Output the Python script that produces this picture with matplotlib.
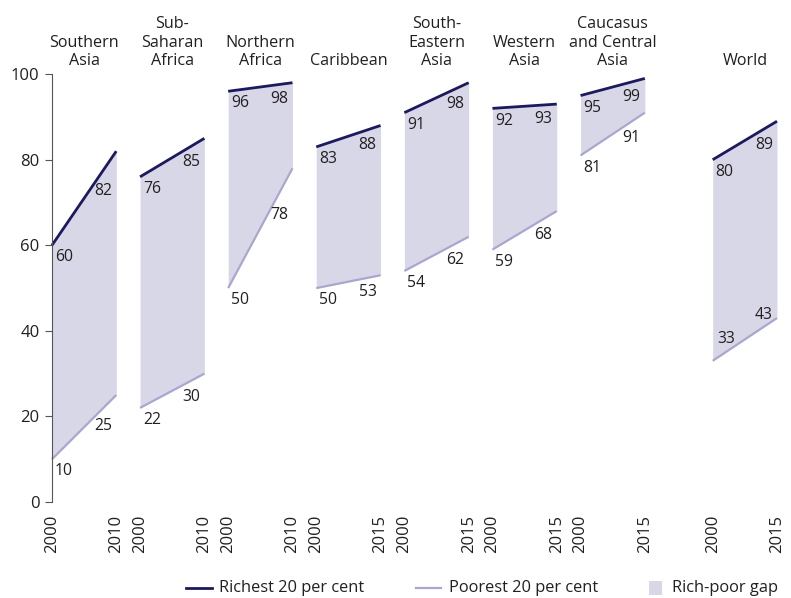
import numpy as np
import matplotlib.pyplot as plt
from matplotlib.lines import Line2D
from matplotlib.patches import Rectangle

plt.rcParams["font.family"] = ["Open Sans", "DejaVu Sans"]

# Share of births attended by skilled personnel, richest vs poorest quintile
regions = ["Southern\nAsia", "Sub-\nSaharan\nAfrica", "Northern\nAfrica", "Caribbean",
           "South-\nEastern\nAsia", "Western\nAsia", "Caucasus\nand Central\nAsia", "World"]
start_year = ["2000", "2000", "2000", "2000", "2000", "2000", "2000", "2000"]
end_year = ["2010", "2010", "2010", "2015", "2015", "2015", "2015", "2015"]
richest_start = [60, 76, 96, 83, 91, 92, 95, 80]
richest_end = [82, 85, 98, 88, 98, 93, 99, 89]
poorest_start = [10, 22, 50, 50, 54, 59, 81, 33]
poorest_end = [25, 30, 78, 53, 62, 68, 91, 43]

rich_col = "#1c1a5f"
poor_col = "#aaa7cf"
gap_col = "#d8d7e8"
text_col = "#231f20"
fs = 11.3

# group layout: World sits a half-step further right
group_x = np.array([0, 1, 2, 3, 4, 5, 6, 7.5])
width = 0.73

fig = plt.figure(figsize=(7.91, 5.98), dpi=100)
ax = fig.add_axes([0.0657, 0.1605, 0.9166, 0.7155])

def end_label(ax, x0, x1, v0, v1, above=False):
    # put the end value under (or over) the line, right aligned to the segment end
    slope = (v1 - v0) / (x1 - x0)
    y_at = v1 - slope * 0.2
    if above:
        ax.annotate(f"{v1}", (x1, y_at), xytext=(-3, 5), textcoords="offset points",
                    ha="right", va="bottom", fontsize=fs, color=text_col)
    else:
        ax.annotate(f"{v1}", (x1, y_at), xytext=(-3, -4), textcoords="offset points",
                    ha="right", va="top", fontsize=fs, color=text_col)

for i, name in enumerate(regions):
    x0 = group_x[i]
    x1 = x0 + width
    xs = [x0, x1]
    rich = [richest_start[i], richest_end[i]]
    poor = [poorest_start[i], poorest_end[i]]
    ax.fill_between(xs, poor, rich, color=gap_col, lw=0, clip_on=False)
    ax.plot(xs, rich, color=rich_col, lw=2.0, solid_capstyle="butt", clip_on=False)
    ax.plot(xs, poor, color=poor_col, lw=1.6, solid_capstyle="butt", clip_on=False)

    world = name == "World"
    ax.annotate(f"{rich[0]}", (x0, rich[0]), xytext=(2, -3), textcoords="offset points",
                ha="left", va="top", fontsize=fs, color=text_col)
    end_label(ax, x0, x1, rich[0], rich[1])
    if world:
        ax.annotate(f"{poor[0]}", (x0, poor[0]), xytext=(3, 10), textcoords="offset points",
                    ha="left", va="bottom", fontsize=fs, color=text_col)
        end_label(ax, x0, x1, poor[0], poor[1], above=True)
    else:
        ax.annotate(f"{poor[0]}", (x0, poor[0]), xytext=(2, -3), textcoords="offset points",
                    ha="left", va="top", fontsize=fs, color=text_col)
        end_label(ax, x0, x1, poor[0], poor[1])

    ax.text(x0 + width / 2, 101.2, name, ha="center", va="bottom", fontsize=11.6,
            color=text_col, linespacing=1.2)

ax.set_xlim(0, group_x[-1] + width)
ax.set_ylim(0, 100)
ax.set_yticks([0, 20, 40, 60, 80, 100])
ax.tick_params(axis="y", length=5, width=0.8, color="#555555", labelsize=12,
               labelcolor=text_col, pad=4)

ticks = np.concatenate([group_x, group_x + width])
labels = start_year + end_year
ax.set_xticks(ticks)
ax.set_xticklabels(labels, rotation=90, fontsize=12, color=text_col)
ax.tick_params(axis="x", length=0, pad=9)

for side in ["top", "right", "bottom"]:
    ax.spines[side].set_visible(False)
ax.spines["left"].set_color("#555555")
ax.spines["left"].set_linewidth(0.8)

# legend row along the bottom, laid out in figure pixels
W, H = 791, 598
ly = 1 - 588 / H
lfs = 11.8
fig.add_artist(Line2D([186 / W, 212 / W], [ly, ly], color=rich_col, lw=2.0,
                      transform=fig.transFigure))
fig.text(219 / W, ly, "Richest 20 per cent", ha="left", va="center", fontsize=lfs,
         color=text_col)
fig.add_artist(Line2D([416 / W, 441 / W], [ly, ly], color=poor_col, lw=1.6,
                      transform=fig.transFigure))
fig.text(449 / W, ly, "Poorest 20 per cent", ha="left", va="center", fontsize=lfs,
         color=text_col)
fig.add_artist(Rectangle((649 / W, ly - 7 / H), 13 / W, 14 / H, facecolor=gap_col,
                         edgecolor="none", transform=fig.transFigure))
fig.text(672 / W, ly, "Rich-poor gap", ha="left", va="center", fontsize=lfs,
         color=text_col)

fig.savefig("out.png", dpi=100)
